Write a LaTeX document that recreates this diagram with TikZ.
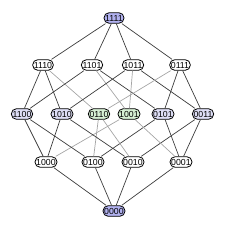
\documentclass[tikz,border=0pt]{standalone}
\usepackage{fontspec}
\setmainfont{Liberation Sans}
\definecolor{topblue}{RGB}{178,178,240}
\definecolor{midblue}{RGB}{222,222,246}
\definecolor{selfgreen}{RGB}{214,240,212}
\definecolor{darkline}{RGB}{60,60,60}
\definecolor{paleline}{RGB}{165,165,165}
\tikzset{
  vert/.style={draw, line width=0.8bp, rounded corners=5bp, fill=white,
    minimum height=10.5bp, inner xsep=1.2bp, inner ysep=1bp, font=\fontsize{8.8}{9}\selectfont},
  ends/.style={vert, fill=topblue},
  half/.style={vert, fill=midblue},
  twin/.style={vert, fill=selfgreen},
  link/.style={draw=darkline, line width=0.7bp},
  faint/.style={draw=paleline, line width=0.7bp}
}
\begin{document}
\begin{tikzpicture}[x=1bp, y=-1bp]
		\useasboundingbox (0,0) rectangle (230,230);
		
		% Top
		\node[ends] (n1111) at (114,18) {1111};
		
		% Three ones
		\node[vert] (n1110) at (43,65) {1110};
		\node[vert] (n1101) at (92,65) {1101};
		\node[vert] (n1011) at (133,65) {1011};
		\node[vert] (n0111) at (180,65) {0111};
		
		% Two ones
		\node[half] (n1100) at (22,114) {1100};
		\node[half] (n1010) at (62,114) {1010};
		\node[twin] (n0110) at (99,114) {0110};
		\node[twin] (n1001) at (129,114) {1001};
		\node[half] (n0101) at (163,114) {0101};
		\node[half] (n0011) at (203,114) {0011};
		
		% One one
		\node[vert] (n1000) at (46,162) {1000};
		\node[vert] (n0100) at (93,162) {0100};
		\node[vert] (n0010) at (133,162) {0010};
		\node[vert] (n0001) at (181,162) {0001};
		
		% Bottom
		\node[ends] (n0000) at (114,211) {0000};
		
		% Upper edges
		\draw[link] (n1111) -- (n1110);
		\draw[link] (n1111) -- (n1101);
		\draw[link] (n1111) -- (n1011);
		\draw[link] (n1111) -- (n0111);
		
		\draw[link] (n1110) -- (n1100);
		\draw[link] (n1110) -- (n1010);
		\draw[faint] (n1110) -- (n0110);
		\draw[link] (n1101) -- (n1100);
		\draw[faint] (n1101) -- (n1001);
		\draw[link] (n1101) -- (n0101);
		\draw[link] (n1011) -- (n1010);
		\draw[faint] (n1011) -- (n1001);
		\draw[link] (n1011) -- (n0011);
		\draw[faint] (n0111) -- (n0110);
		\draw[link] (n0111) -- (n0101);
		\draw[link] (n0111) -- (n0011);
		
		% Lower edges
		\draw[link] (n1000) -- (n1100);
		\draw[link] (n1000) -- (n1010);
		\draw[faint] (n1000) -- (n1001);
		\draw[link] (n0100) -- (n1100);
		\draw[faint] (n0100) -- (n0110);
		\draw[link] (n0100) -- (n0101);
		\draw[link] (n0010) -- (n1010);
		\draw[faint] (n0010) -- (n0110);
		\draw[link] (n0010) -- (n0011);
		\draw[faint] (n0001) -- (n1001);
		\draw[link] (n0001) -- (n0101);
		\draw[link] (n0001) -- (n0011);
		
		\draw[link] (n0000) -- (n1000);
		\draw[link] (n0000) -- (n0100);
		\draw[link] (n0000) -- (n0010);
		\draw[link] (n0000) -- (n0001);
		
	\end{tikzpicture}
\end{document}
